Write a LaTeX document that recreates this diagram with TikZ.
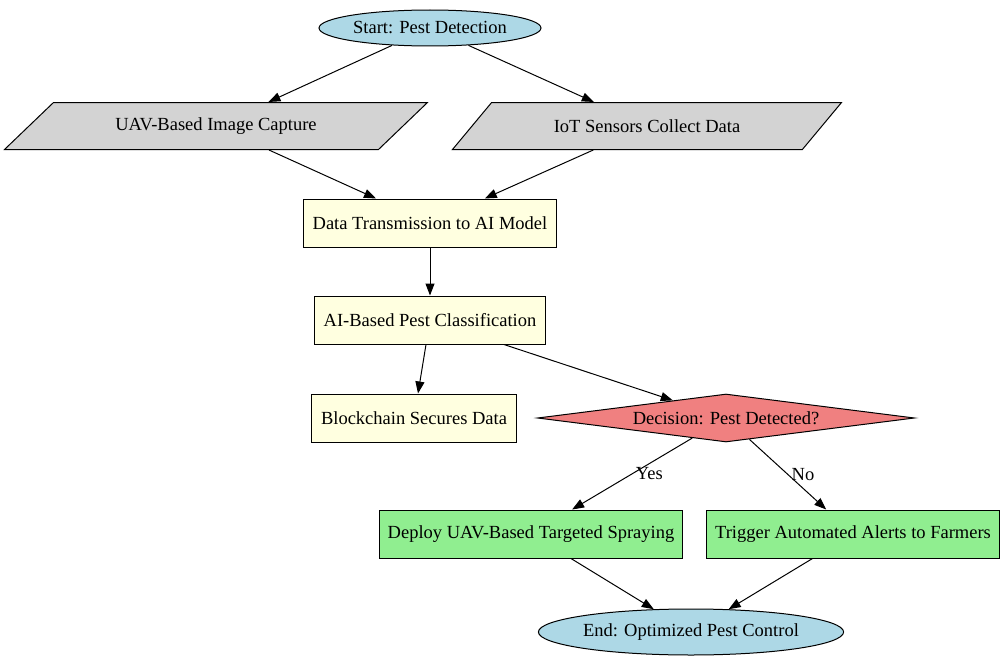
\documentclass[tikz,border=0pt]{standalone}
\usepackage{fontspec}
\setmainfont{Liberation Serif}
\usetikzlibrary{arrows.meta, positioning, shapes.geometric}

\definecolor{lightblue}{RGB}{173,216,230}
\definecolor{lightgrey}{RGB}{211,211,211}
\definecolor{lightyellow}{RGB}{255,255,224}
\definecolor{lightcoral}{RGB}{240,128,128}
\definecolor{lightgreen}{RGB}{144,238,144}

\begin{document}
\begin{tikzpicture}[
    x=1pt, y=-1pt,
    every node/.style={font=\fontsize{18.5}{22}\selectfont},
    terminal/.style={draw, ellipse, fill=lightblue, inner sep=0pt, line width=1pt},
    inputbox/.style={draw, trapezium, trapezium left angle=29, trapezium right angle=151, trapezium stretches=true, fill=lightgrey, inner sep=0pt, minimum height=47pt, line width=1pt},
    procbox/.style={draw, rectangle, fill=lightyellow, minimum height=48pt, inner xsep=0pt, line width=1pt},
    actbox/.style={draw, rectangle, fill=lightgreen, minimum height=48pt, inner xsep=0pt, line width=1pt},
    decide/.style={draw, diamond, aspect=7.85, fill=lightcoral, inner sep=0pt, minimum width=377pt, minimum height=48pt, line width=1pt},
    flow/.style={-{Triangle[length=12pt, width=9pt]}, line width=1pt},
]
  \useasboundingbox (0,0) rectangle (1007,661);

  % Inputs
  \node[terminal, minimum width=222pt, minimum height=36pt] (start) at (430,28) {Start: Pest Detection};
  \node[inputbox, minimum width=423pt] (uav) at (216,126) {UAV-Based Image Capture};
  \node[inputbox, minimum width=390pt] (iot) at (647,126) {IoT Sensors Collect Data};
  \draw[flow] (start) -- (uav);
  \draw[flow] (start) -- (iot);

  % Processing
  \node[procbox, minimum width=253pt] (trans) at (430,223) {Data Transmission to AI Model};
  \node[procbox, minimum width=231pt] (classify) at (430,320) {AI-Based Pest Classification};
  \node[procbox, minimum width=205pt] (chain) at (414,418) {Blockchain Secures Data};
  \node[decide] (decision) at (726,418) {Decision: Pest Detected?};
  \draw[flow] (uav) -- (trans);
  \draw[flow] (iot) -- (trans);
  \draw[flow] (trans) -- (classify);
  \draw[flow] (classify) -- (chain);
  \draw[flow] (classify) -- (decision);

  % Actions
  \node[actbox, minimum width=303pt] (spray) at (531,534) {Deploy UAV-Based Targeted Spraying};
  \node[actbox, minimum width=293pt] (alert) at (853,534) {Trigger Automated Alerts to Farmers};
  \node[terminal, minimum width=303pt, minimum height=46pt] (finish) at (691,632) {End: Optimized Pest Control};
  \draw[flow] (decision) -- node[right, pos=0.5] {Yes} (spray);
  \draw[flow] (decision) -- node[right, pos=0.5] {No} (alert);
  \draw[flow] (spray) -- (finish);
  \draw[flow] (alert) -- (finish);
\end{tikzpicture}
\end{document}
